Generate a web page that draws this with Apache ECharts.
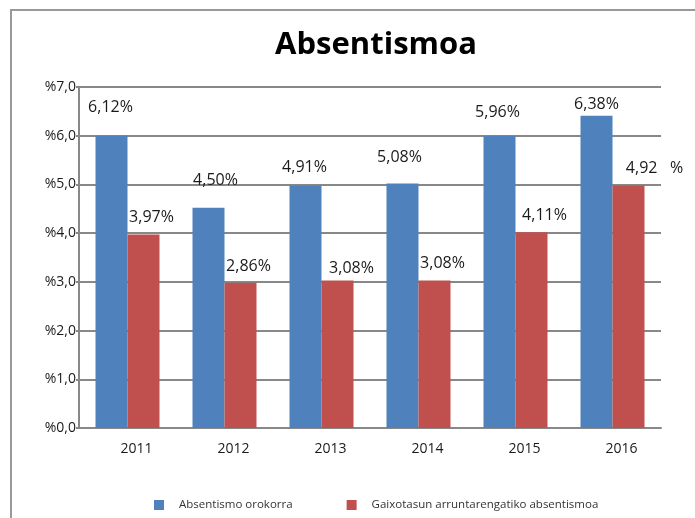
<!DOCTYPE html>
<html>
<head>
<meta charset="utf-8">
<script src="https://cdn.jsdelivr.net/npm/echarts@6/dist/echarts.min.js"></script>
<style>
html,body{margin:0;padding:0;background:#fff;}
#chart{width:695px;height:518px;}
</style>
</head>
<body>
<div id="chart"></div>
<script>
// ---- data ----
const titleText = 'Absentismoa';
const categories = ['2011', '2012', '2013', '2014', '2015', '2016'];
const seriesNames = ['Absentismo orokorra', 'Gaixotasun arruntarengatiko absentismoa'];
const blueValues = [6.0, 4.52, 4.98, 5.02, 6.0, 6.41];
const redValues = [3.97, 2.98, 3.03, 3.03, 4.02, 4.98];
const blueLabels = ['6,12%', '4,50%', '4,91%', '5,08%', '5,96%', '6,38%'];
const redLabels = ['3,97%', '2,86%', '3,08%', '3,08%', '4,11%', '4,92   %'];
const yTicks = [0, 1, 2, 3, 4, 5, 6, 7];

// ---- styling (label nudges, not data) ----
const blueLabelOffsets = [[-1, -20], [7, -19], [-1, -10], [-3, -18], [-2, -15], [0, -3]];
const redLabelOffsets = [[8, -9], [8, -8], [14, -4], [8, -9], [13, -9], [26, -9]];
const FONT = '"Open Sans", sans-serif';
const GRID_GRAY = '#888888';

function makeData(values, labels, offsets) {
  return values.map((v, i) => ({
    value: v,
    label: { formatter: labels[i], offset: offsets[i] }
  }));
}

const chart = echarts.init(document.getElementById('chart'), null, { renderer: 'canvas' });
chart.setOption({
  backgroundColor: '#ffffff',
  animation: false,
  title: {
    text: titleText,
    left: 371,
    top: 25,
    textAlign: 'center',
    textStyle: { fontFamily: FONT, fontWeight: 'bold', fontSize: 31, color: '#000000' }
  },
  graphic: [{
    type: 'polyline',
    shape: { points: [[11, 518], [11, 10], [695, 10]] },
    style: { stroke: '#999999', lineWidth: 2, fill: null },
    silent: true
  }],
  grid: { left: 79, right: 34, top: 87, bottom: 90, containLabel: false },
  legend: {
    left: 149,
    top: 494,
    itemWidth: 10,
    itemHeight: 10,
    itemGap: 54,
    icon: 'rect',
    textStyle: { fontFamily: FONT, fontSize: 11.5, color: '#333333', padding: [0, 0, 0, 10] },
    data: seriesNames
  },
  xAxis: {
    type: 'category',
    data: categories,
    axisLine: { show: true, lineStyle: { color: GRID_GRAY, width: 2 } },
    axisTick: { show: false },
    axisLabel: { fontFamily: FONT, fontSize: 14, color: '#1a1a1a', margin: 14, padding: [0, 0, 0, 18] }
  },
  yAxis: {
    type: 'value',
    min: yTicks[0],
    max: yTicks[yTicks.length - 1],
    interval: 1,
    axisLine: { show: true, lineStyle: { color: GRID_GRAY, width: 2 } },
    axisTick: { show: true, length: 3, lineStyle: { color: GRID_GRAY, width: 2 } },
    splitLine: { show: true, lineStyle: { color: GRID_GRAY, width: 2 } },
    axisLabel: {
      fontFamily: FONT, fontSize: 14, color: '#1a1a1a', margin: 3,
      formatter: v => '%' + v.toFixed(1).replace('.', ',')
    }
  },
  series: [
    {
      name: seriesNames[0],
      type: 'bar',
      barWidth: 32,
      barGap: '0%',
      itemStyle: { color: '#4F81BD' },
      label: { show: true, position: 'top', distance: 0, fontFamily: FONT, fontSize: 16, color: '#1a1a1a' },
      data: makeData(blueValues, blueLabels, blueLabelOffsets)
    },
    {
      name: seriesNames[1],
      type: 'bar',
      barWidth: 32,
      barGap: '0%',
      itemStyle: { color: '#C0504D' },
      label: { show: true, position: 'top', distance: 0, fontFamily: FONT, fontSize: 16, color: '#1a1a1a' },
      data: makeData(redValues, redLabels, redLabelOffsets)
    }
  ]
});
</script>
</body>
</html>
